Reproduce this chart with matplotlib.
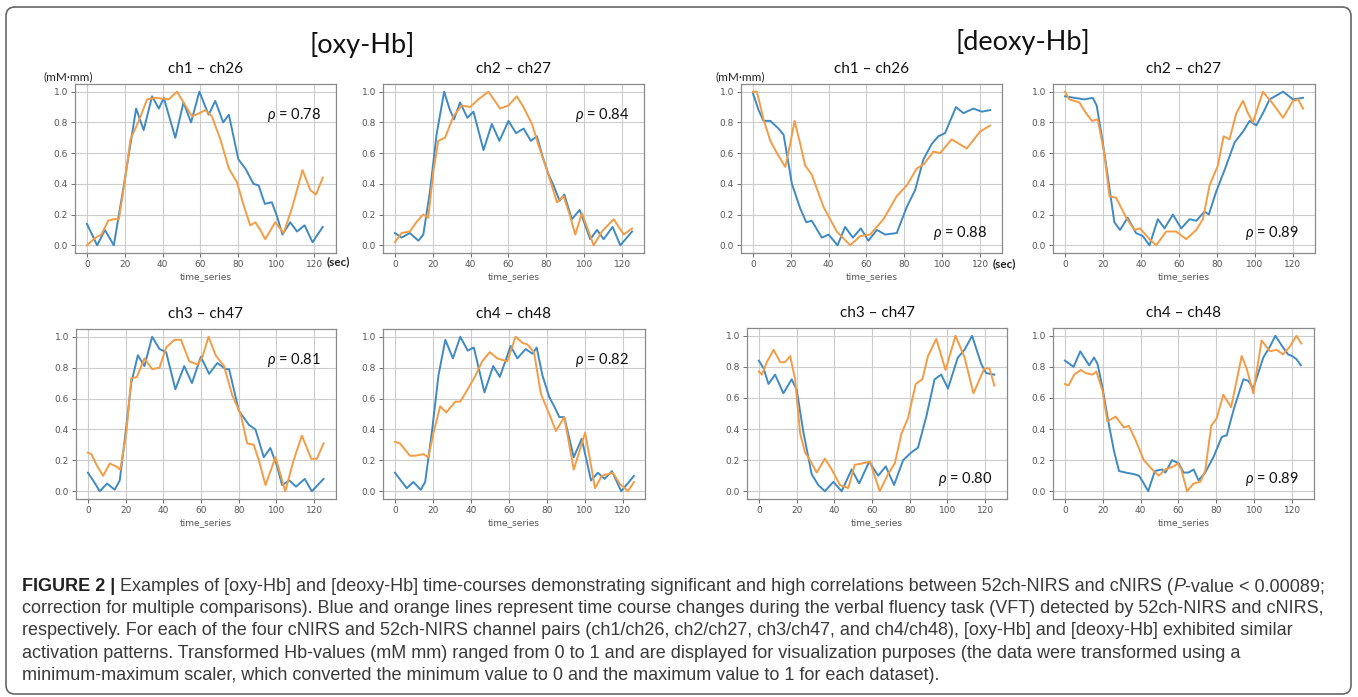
"""Min-max scaled [oxy-Hb] / [deoxy-Hb] time courses, 52ch-NIRS vs cNIRS.

Eight small panels (four channel pairs per chromophore) inside a rounded
frame, with the figure caption typeset underneath.
"""
import matplotlib.pyplot as plt
from matplotlib.patches import FancyBboxPatch
from matplotlib.transforms import IdentityTransform
from matplotlib.ticker import FormatStrFormatter

W, H = 1358, 697
BLUE = '#3f8ac2'
ORANGE = '#f39c45'

# (time s, scaled value) pairs; blue = 52ch-NIRS, orange = cNIRS
oxy_ch1_nirs = [(0, 0.14), (5.4, 0.0), (9.5, 0.10), (14.2, 0.0), (19.5, 0.39), (26, 0.89), (30, 0.75),
                (34.4, 0.97), (38, 0.89), (40.6, 0.96), (46.7, 0.70), (51, 0.93), (55, 0.80), (59.4, 1.0),
                (64.3, 0.85), (67.8, 0.94), (72, 0.80), (75, 0.85), (80, 0.56), (83.7, 0.50), (88, 0.40),
                (90.7, 0.39), (94, 0.27), (97.7, 0.28), (100.4, 0.19), (103.3, 0.07), (107.4, 0.15),
                (111, 0.09), (115, 0.13), (119.2, 0.02), (124.6, 0.12)]
oxy_ch1_cnirs = [(0, 0.0), (4.6, 0.05), (7.7, 0.07), (11.2, 0.16), (14.2, 0.17), (16.9, 0.17), (20.4, 0.45),
                 (23, 0.69), (27.4, 0.81), (31.8, 0.95), (36.2, 0.96), (43.2, 0.95), (47.6, 1.0), (52, 0.91),
                 (55.5, 0.84), (59.4, 0.86), (62.6, 0.88), (66, 0.84), (70.5, 0.69), (75, 0.50), (79.3, 0.41),
                 (82.8, 0.26), (86.3, 0.13), (89, 0.15), (91.6, 0.10), (94.2, 0.04), (99.5, 0.15),
                 (103.9, 0.08), (108.3, 0.24), (113.9, 0.49), (118, 0.36), (121, 0.33), (124.6, 0.44)]

oxy_ch2_nirs = [(0, 0.08), (3.5, 0.05), (7.9, 0.08), (12.4, 0.03), (15, 0.07), (18.5, 0.35), (22, 0.72),
                (26, 1.0), (28.8, 0.89), (31.2, 0.82), (34.4, 0.93), (38.3, 0.83), (41.5, 0.87), (46.8, 0.62),
                (51.2, 0.79), (55.2, 0.68), (60, 0.81), (64, 0.73), (68, 0.76), (71.8, 0.68), (75, 0.71),
                (78.2, 0.57), (81.2, 0.46), (83.8, 0.39), (87, 0.29), (89.5, 0.33), (93.5, 0.17),
                (97.6, 0.23), (103.2, 0.04), (106.8, 0.10), (110.3, 0.04), (115, 0.12), (119.1, 0.0),
                (125.3, 0.09)]
oxy_ch2_cnirs = [(0, 0.02), (3.5, 0.08), (7.9, 0.09), (11.3, 0.15), (14.9, 0.20), (17.6, 0.18), (20.3, 0.48),
                 (22.9, 0.68), (26.5, 0.70), (30.9, 0.84), (35.3, 0.91), (39.7, 0.90), (44.1, 0.95),
                 (49.4, 1.0), (55.6, 0.89), (60, 0.91), (64.4, 0.97), (67.9, 0.90), (72.4, 0.79), (75.9, 0.65),
                 (80.3, 0.49), (85.6, 0.28), (89.1, 0.32), (92.3, 0.20), (95.3, 0.07), (98.8, 0.21),
                 (105, 0.0), (109.4, 0.09), (115.6, 0.17), (120.9, 0.07), (125.3, 0.11)]

oxy_ch3_nirs = [(0, 0.12), (2.8, 0.07), (6.3, 0.0), (10.2, 0.05), (14.2, 0.01), (16.9, 0.07), (20.4, 0.42),
                (23, 0.70), (26.5, 0.88), (30, 0.81), (34.1, 1.0), (38, 0.92), (41.5, 0.90), (46.4, 0.66),
                (51.1, 0.81), (55.2, 0.70), (59.9, 0.87), (64.3, 0.76), (68.7, 0.83), (73.1, 0.79),
                (74.9, 0.79), (80.1, 0.52), (85.4, 0.43), (88.9, 0.40), (93.3, 0.22), (96.8, 0.28),
                (100.4, 0.16), (103, 0.04), (106.9, 0.07), (110.4, 0.03), (115, 0.08), (118.8, 0.0),
                (125, 0.08)]
oxy_ch3_cnirs = [(0, 0.25), (1.9, 0.24), (4.6, 0.17), (8.1, 0.10), (11.6, 0.18), (15.1, 0.16), (17.2, 0.14),
                 (20.4, 0.38), (23, 0.73), (26, 0.74), (30, 0.86), (34.1, 0.79), (38, 0.80), (41.5, 0.93),
                 (45.9, 0.98), (49.4, 0.98), (53.8, 0.84), (58.2, 0.82), (60.8, 0.87), (64, 1.0),
                 (67.8, 0.88), (72.2, 0.81), (76.6, 0.62), (81, 0.50), (84.5, 0.31), (88, 0.30),
                 (90.7, 0.20), (94.2, 0.04), (99.5, 0.22), (104.7, 0.0), (109.1, 0.20), (113.5, 0.36),
                 (118.5, 0.21), (121.4, 0.21), (125, 0.31)]

oxy_ch4_nirs = [(0, 0.12), (6.2, 0.02), (9.7, 0.06), (13.6, 0.01), (15.9, 0.06), (19.4, 0.38), (22.9, 0.75),
                (26.5, 0.98), (30.5, 0.86), (34.4, 1.0), (38.3, 0.91), (41.5, 0.93), (47.1, 0.64),
                (51.7, 0.81), (55.2, 0.74), (60.9, 0.94), (64.4, 0.86), (68.8, 0.92), (72.4, 0.89),
                (74.6, 0.93), (77.6, 0.75), (81.2, 0.61), (83.8, 0.55), (86.5, 0.48), (89.1, 0.48),
                (94.1, 0.22), (98.3, 0.34), (103.2, 0.07), (106.8, 0.12), (110.3, 0.08), (114.2, 0.13),
                (119.1, 0.0), (125.8, 0.10)]
oxy_ch4_cnirs = [(0, 0.32), (2.6, 0.31), (7.9, 0.23), (10.6, 0.23), (15, 0.24), (17.6, 0.22), (20.3, 0.38),
                 (23.8, 0.55), (27, 0.51), (31.8, 0.58), (34.4, 0.58), (39.7, 0.69), (42.4, 0.75),
                 (45.9, 0.84), (49.9, 0.90), (53.8, 0.86), (59.1, 0.84), (63.5, 1.0), (67.1, 0.96),
                 (69.7, 0.95), (73.2, 0.90), (76.8, 0.63), (81.2, 0.50), (84.7, 0.39), (89.1, 0.48),
                 (94.1, 0.14), (100.1, 0.38), (105.3, 0.02), (108.9, 0.10), (114.7, 0.12), (118.2, 0.05),
                 (122.6, 0.0), (125.8, 0.06)]

deoxy_ch1_nirs = [(0, 0.99), (3, 0.88), (5.6, 0.81), (9.2, 0.81), (13.5, 0.76), (16.2, 0.72), (20.6, 0.40),
                  (25, 0.24), (28.2, 0.15), (31.1, 0.16), (36.4, 0.05), (40, 0.07), (44.7, 0.0), (48.7, 0.12),
                  (52.8, 0.05), (57, 0.11), (61, 0.03), (65.5, 0.10), (69.9, 0.07), (76, 0.08), (81.3, 0.25),
                  (85.7, 0.36), (90.1, 0.56), (94.5, 0.66), (98, 0.71), (101.5, 0.73), (107.3, 0.90),
                  (111.2, 0.86), (116.5, 0.89), (120.9, 0.87), (125.3, 0.88)]
deoxy_ch1_cnirs = [(0, 1.0), (2.1, 1.0), (5.6, 0.82), (9.2, 0.68), (12.7, 0.60), (17.1, 0.51), (19.7, 0.66),
                   (22, 0.81), (25, 0.66), (27.6, 0.52), (31.1, 0.46), (37.3, 0.25), (44.3, 0.09),
                   (51.4, 0.0), (56.7, 0.06), (61.9, 0.07), (69, 0.17), (76, 0.32), (81.3, 0.39),
                   (86.6, 0.50), (90.4, 0.53), (95.4, 0.61), (98.9, 0.60), (105, 0.69), (113, 0.63),
                   (120, 0.74), (125.3, 0.78)]

deoxy_ch2_nirs = [(0, 0.97), (4.9, 0.96), (10.2, 0.95), (14.6, 0.96), (16.7, 0.91), (19.9, 0.67),
                  (22.5, 0.45), (26, 0.15), (29, 0.10), (33, 0.18), (37.4, 0.08), (41, 0.06), (44.5, 0.0),
                  (48.9, 0.17), (52.4, 0.11), (56.8, 0.20), (61.2, 0.11), (65.6, 0.17), (69.1, 0.16),
                  (73.5, 0.22), (75.7, 0.20), (79.6, 0.35), (84, 0.49), (89.3, 0.67), (93.7, 0.74),
                  (97.2, 0.81), (100.7, 0.78), (104.2, 0.86), (107.7, 0.95), (114.8, 1.0), (120, 0.95),
                  (125.3, 0.96)]
deoxy_ch2_cnirs = [(0, 1.0), (2.3, 0.95), (7.6, 0.93), (11.1, 0.86), (14.2, 0.81), (17.2, 0.82), (20.7, 0.60),
                   (23.4, 0.32), (26.9, 0.31), (32.2, 0.18), (36.6, 0.10), (39.5, 0.11), (44.5, 0.04),
                   (48, 0.0), (53.3, 0.09), (58.5, 0.09), (63.8, 0.04), (69.1, 0.10), (72.6, 0.17),
                   (76.1, 0.39), (80.5, 0.52), (83.5, 0.71), (86.6, 0.69), (90.2, 0.86), (93.7, 0.94),
                   (96.3, 0.86), (98.9, 0.80), (104.2, 1.0), (109.5, 0.92), (114.8, 0.83), (120, 0.94),
                   (122.7, 0.95), (125.3, 0.89)]

deoxy_ch3_nirs = [(0, 0.84), (2.5, 0.79), (5.1, 0.69), (8.6, 0.75), (13, 0.63), (17.4, 0.72), (20.1, 0.65),
                  (23.6, 0.38), (28, 0.11), (31.5, 0.04), (35, 0.0), (39.5, 0.06), (43.9, 0.0), (49.2, 0.14),
                  (53.2, 0.05), (58.5, 0.19), (63.3, 0.10), (67.3, 0.16), (71.7, 0.04), (76.5, 0.20),
                  (80.9, 0.25), (84.4, 0.28), (88.8, 0.48), (93.2, 0.72), (96.7, 0.75), (100.3, 0.66),
                  (105.5, 0.86), (109.1, 0.91), (113.1, 1.0), (117.9, 0.82), (120.5, 0.76), (124.9, 0.75)]
deoxy_ch3_cnirs = [(0, 0.77), (1.6, 0.75), (4.2, 0.83), (7.8, 0.91), (11.3, 0.83), (13.9, 0.83), (16.6, 0.87),
                   (19.2, 0.72), (21.9, 0.37), (24.5, 0.25), (27.1, 0.20), (30.7, 0.12), (35, 0.21),
                   (38.6, 0.14), (43, 0.04), (47.4, 0.02), (50.9, 0.17), (55.3, 0.18), (58.9, 0.19),
                   (64.1, 0.0), (68.5, 0.11), (72.1, 0.18), (75.6, 0.37), (79.1, 0.47), (83.2, 0.69),
                   (86.7, 0.72), (89.7, 0.87), (94.1, 0.98), (99, 0.78), (104.3, 1.0), (109.1, 0.86),
                   (113.8, 0.63), (119.6, 0.79), (122.3, 0.79), (124.9, 0.68)]

deoxy_ch4_nirs = [(0, 0.84), (2.3, 0.82), (4.6, 0.80), (8.1, 0.90), (12.8, 0.81), (15.4, 0.86), (17.2, 0.82),
                  (19.8, 0.67), (22.9, 0.45), (25.9, 0.26), (28.6, 0.13), (32.1, 0.12), (36.4, 0.11),
                  (39.1, 0.10), (41.2, 0.06), (44, 0.0), (47.5, 0.13), (51.3, 0.14), (53.1, 0.12),
                  (56.6, 0.20), (60.1, 0.18), (62.7, 0.12), (65.3, 0.12), (68, 0.14), (70.6, 0.07),
                  (74.1, 0.12), (78.5, 0.22), (82.9, 0.35), (85.5, 0.36), (89.5, 0.54), (94.3, 0.72),
                  (96.9, 0.71), (99.5, 0.66), (104.8, 0.86), (108.3, 0.93), (111.2, 1.0), (114.4, 0.94),
                  (117.9, 0.88), (120, 0.87), (122.3, 0.85), (124.6, 0.81)]
deoxy_ch4_cnirs = [(0, 0.69), (1.9, 0.68), (4.9, 0.75), (8.4, 0.78), (11, 0.76), (14.5, 0.75), (16.6, 0.77),
                   (19.8, 0.65), (22.4, 0.45), (26.8, 0.48), (31.2, 0.41), (33.8, 0.42), (37.3, 0.33),
                   (41.7, 0.20), (46.1, 0.14), (49.6, 0.10), (53.1, 0.14), (57.5, 0.16), (59.7, 0.18),
                   (61.5, 0.14), (64.5, 0.0), (68, 0.05), (71.5, 0.06), (74.1, 0.13), (77.3, 0.42),
                   (80.2, 0.47), (83.7, 0.62), (87.8, 0.54), (93.4, 0.87), (96, 0.79), (99.5, 0.63),
                   (103.9, 0.97), (108.3, 0.90), (111.8, 0.91), (115.3, 0.88), (118.8, 0.93), (122.3, 1.0),
                   (124.9, 0.95)]

titles = ['ch1 – ch26', 'ch2 – ch27', 'ch3 – ch47', 'ch4 – ch48']
oxy_rho = [0.78, 0.84, 0.81, 0.82]
deoxy_rho = [0.88, 0.89, 0.80, 0.89]

caption_lines = [
    'correction for multiple comparisons). Blue and orange lines represent time course changes during the '
    'verbal fluency task (VFT) detected by 52ch-NIRS and cNIRS,',
    'respectively. For each of the four cNIRS and 52ch-NIRS channel pairs (ch1/ch26, ch2/ch27, ch3/ch47, '
    'and ch4/ch48), [oxy-Hb] and [deoxy-Hb] exhibited similar',
    'activation patterns. Transformed Hb-values (mM mm) ranged from 0 to 1 and are displayed for '
    'visualization purposes (the data were transformed using a',
    'minimum-maximum scaler, which converted the minimum value to 0 and the maximum value to 1 for each dataset).',
]

# axes boxes in pixels (x0, y0, x1, y1), top-left origin
OXY_BOXES = [(75, 84, 336, 253), (383, 84, 644, 253), (76, 329, 336, 499), (383, 329, 645, 499)]
DEOXY_BOXES = [(741, 84, 1002, 253), (1053, 84, 1315, 253), (747, 328, 1007, 499), (1053, 328, 1314, 499)]

plt.rcParams['mathtext.fontset'] = 'custom'
plt.rcParams['mathtext.it'] = 'Lato:italic'
plt.rcParams['mathtext.rm'] = 'Lato'
TITLE_FONT = ['Lato', 'DejaVu Sans']
CAP_FONT = ['Liberation Sans', 'DejaVu Sans']


def px_axes(fig, x0, y0, x1, y1):
    return fig.add_axes([x0 / W, 1 - y1 / H, (x1 - x0) / W, (y1 - y0) / H])


def panel(fig, box, title, nirs, cnirs, rho, rho_y):
    ax = px_axes(fig, *box)
    t, v = zip(*nirs)
    ax.plot(t, v, color=BLUE, lw=1.4, solid_joinstyle='round')
    t, v = zip(*cnirs)
    ax.plot(t, v, color=ORANGE, lw=1.4, solid_joinstyle='round')
    ax.set_xlim(-6.3, 131.6)
    ax.set_ylim(-0.05, 1.05)
    ax.set_xticks(range(0, 121, 20))
    ax.set_yticks([0, 0.2, 0.4, 0.6, 0.8, 1.0])
    ax.yaxis.set_major_formatter(FormatStrFormatter('%.1f'))
    ax.tick_params(labelsize=6.5, colors='#555555', length=3, width=0.6, pad=2)
    ax.grid(True, color='#cccccc', lw=0.8)
    for s in ax.spines.values():
        s.set_color('#8a8a8a')
        s.set_linewidth(0.9)
    ax.set_xlabel('time_series', fontsize=6.5, color='#555555', labelpad=2)
    ax.text(0.5, 1 + 15 / 169, title, transform=ax.transAxes, ha='center', va='center',
            fontsize=11, family=TITLE_FONT, color='#111111')
    ax.text(95, rho_y, r'$\rho$ = %.2f' % rho, ha='left', va='center', fontsize=10.5,
            family=TITLE_FONT, color='#111111')
    return ax


fig = plt.figure(figsize=(W / 100, H / 100), dpi=100)
bg = fig.add_axes([0, 0, 1, 1])
bg.set_xlim(0, W)
bg.set_ylim(H, 0)
bg.axis('off')

frame = FancyBboxPatch((6, H - 694), 1345, 687, boxstyle='round,pad=0,rounding_size=9',
                       transform=IdentityTransform(), fill=False, ec='#666666', lw=1.2)
fig.patches.append(frame)

oxy = [(oxy_ch1_nirs, oxy_ch1_cnirs), (oxy_ch2_nirs, oxy_ch2_cnirs),
       (oxy_ch3_nirs, oxy_ch3_cnirs), (oxy_ch4_nirs, oxy_ch4_cnirs)]
deoxy = [(deoxy_ch1_nirs, deoxy_ch1_cnirs), (deoxy_ch2_nirs, deoxy_ch2_cnirs),
         (deoxy_ch3_nirs, deoxy_ch3_cnirs), (deoxy_ch4_nirs, deoxy_ch4_cnirs)]
for i in range(4):
    panel(fig, OXY_BOXES[i], titles[i], *oxy[i], oxy_rho[i], 0.85)
    panel(fig, DEOXY_BOXES[i], titles[i], *deoxy[i], deoxy_rho[i], 0.08)

bg.text(362, 45, '[oxy-Hb]', ha='center', va='center', fontsize=19.5, family=TITLE_FONT, color='#111111')
bg.text(1023, 42, '[deoxy-Hb]', ha='center', va='center', fontsize=19.5, family=TITLE_FONT, color='#111111')
for x, y in [(43, 77), (715, 77)]:
    bg.text(x, y, '(mM·mm)', ha='left', va='center', fontsize=8.5, family=TITLE_FONT, color='#222222')
for x, y in [(327, 262), (993, 264)]:
    bg.text(x, y, '(sec)', ha='left', va='center', fontsize=8.5, family=TITLE_FONT,
            weight='bold', color='#222222')

# caption, first line chained so that "P" can be italic
cap = dict(fontsize=13, family=CAP_FONT, color='#3a3a3a')
y0, dy = 591, 22.2
t = bg.text(22, y0, 'FIGURE 2 |', weight='bold', va='baseline', **dict(cap, color='#222222'))
for piece, style in [(' Examples of [oxy-Hb] and [deoxy-Hb] time-courses demonstrating significant and high '
                      'correlations between 52ch-NIRS and cNIRS (', 'normal'),
                     ('P', 'italic'), ('-value < 0.00089;', 'normal')]:
    t = bg.annotate(piece, xy=(1, 0), xycoords=t, style=style, ha='left', va='bottom', **cap)
for k, line in enumerate(caption_lines, start=1):
    bg.text(22, y0 + k * dy, line, ha='left', va='baseline', **cap)

fig.savefig('out.png', dpi=100)
